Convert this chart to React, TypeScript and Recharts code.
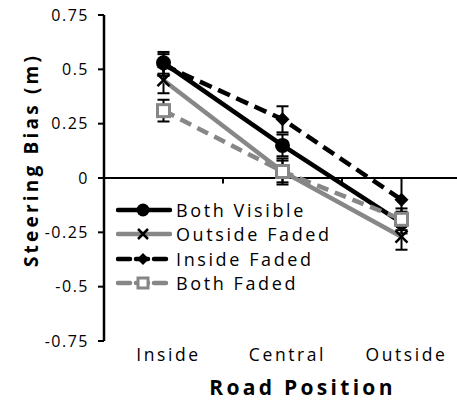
import React from 'react';
import { LineChart, Line, XAxis, YAxis, ErrorBar, ReferenceLine, Legend, Label } from 'recharts';

const categories = ['Inside', 'Central', 'Outside'];
const bothVisible = [0.53, 0.15, -0.205];
const bothVisibleErr = [0.05, 0.05, 0.05];
const outsideFaded = [0.45, 0.03, -0.27];
const outsideFadedErr = [0.06, 0.06, 0.06];
const insideFaded = [0.52, 0.27, -0.1];
const insideFadedErr = [0.05, 0.06, 0.1];
const bothFaded = [0.31, 0.03, -0.19];
const bothFadedErr = [0.05, 0.05, 0.05];
const yTicks = [-0.75, -0.5, -0.25, 0, 0.25, 0.5, 0.75];
const seriesNames = ['Both Visible', 'Outside Faded', 'Inside Faded', 'Both Faded'];

const data = categories.map((c, i) => ({
  pos: i + 0.5,
  name: c,
  bv: bothVisible[i],
  bvErr: bothVisibleErr[i],
  of: outsideFaded[i],
  ofErr: outsideFadedErr[i],
  inf: insideFaded[i],
  infErr: insideFadedErr[i],
  bf: bothFaded[i],
  bfErr: bothFadedErr[i],
}));

const FONT = '"Open Sans", "DejaVu Sans", sans-serif';
const GRAY = '#878787';

const CircleDot = (p: any) => <circle key={`c${p.index}`} cx={p.cx} cy={p.cy} r={7.5} fill="#000" />;
const XDot = (p: any) => (
  <g key={`x${p.index}`}>
    <line x1={p.cx - 6} y1={p.cy - 6} x2={p.cx + 6} y2={p.cy + 6} stroke="#000" strokeWidth={2.5} />
    <line x1={p.cx - 6} y1={p.cy + 6} x2={p.cx + 6} y2={p.cy - 6} stroke="#000" strokeWidth={2.5} />
  </g>
);
const DiamondDot = (p: any) => (
  <polygon
    key={`d${p.index}`}
    points={`${p.cx},${p.cy - 7} ${p.cx + 7},${p.cy} ${p.cx},${p.cy + 7} ${p.cx - 7},${p.cy}`}
    fill="#000"
  />
);
const SquareDot = (p: any) => (
  <rect key={`s${p.index}`} x={p.cx - 6} y={p.cy - 6} width={12} height={12} fill="#fff" stroke={GRAY} strokeWidth={3} />
);

const legendItems = [
  { name: seriesNames[0], color: '#000', dash: undefined as string | undefined, marker: 'circle' },
  { name: seriesNames[1], color: GRAY, dash: undefined, marker: 'x' },
  { name: seriesNames[2], color: '#000', dash: '12 6', marker: 'diamond' },
  { name: seriesNames[3], color: GRAY, dash: '12 6', marker: 'square' },
];

const LegendMarker = ({ m }: { m: string }) => {
  const cx = 27, cy = 11;
  if (m === 'circle') return <circle cx={cx} cy={cy} r={6.5} fill="#000" />;
  if (m === 'x')
    return (
      <g>
        <line x1={cx - 5} y1={cy - 5} x2={cx + 5} y2={cy + 5} stroke="#000" strokeWidth={2.5} />
        <line x1={cx - 5} y1={cy + 5} x2={cx + 5} y2={cy - 5} stroke="#000" strokeWidth={2.5} />
      </g>
    );
  if (m === 'diamond')
    return <polygon points={`${cx},${cy - 6} ${cx + 6},${cy} ${cx},${cy + 6} ${cx - 6},${cy}`} fill="#000" />;
  return <rect x={cx - 5} y={cy - 5} width={10} height={10} fill="#fff" stroke={GRAY} strokeWidth={3} />;
};

const LegendContent = () => (
  <div style={{ fontFamily: FONT, fontSize: 18, letterSpacing: 2.6, color: '#000' }}>
    {legendItems.map((it) => (
      <div key={it.name} style={{ display: 'flex', alignItems: 'center', height: 24.3 }}>
        <svg width={56} height={22}>
          <line x1={2} y1={11} x2={54} y2={11} stroke={it.color} strokeWidth={4.5} strokeDasharray={it.dash} strokeLinecap="round" />
          <LegendMarker m={it.marker} />
        </svg>
        <span style={{ marginLeft: 4, lineHeight: '22px' }}>{it.name}</span>
      </div>
    ))}
  </div>
);

const XTick = (p: any) => (
  <text x={p.x + 5} y={p.y} dy="0.71em" textAnchor="middle" fontFamily={FONT} fontSize={17.5} letterSpacing={2.6} fill="#000">
    {categories[Math.floor(p.payload.value)]}
  </text>
);

export default function App() {
  return (
    <div style={{ position: 'absolute', left: 0, top: 0, width: 457, height: 407, overflow: 'hidden', background: '#fff' }}>
      <LineChart width={461} height={407} data={data} margin={{ top: 15, right: 0, bottom: 0, left: 0 }}>
        <XAxis
          dataKey="pos"
          type="number"
          domain={[0, 3]}
          ticks={[0.5, 1.5, 2.5]}
          axisLine={false}
          tickLine={false}
          height={66}
          tick={<XTick />}
          tickMargin={2}
        >
          <Label
            value="Road Position"
            position="center"
            dx={20}
            dy={14}
            style={{ fontFamily: FONT, fontSize: 21, fontWeight: 700, letterSpacing: 3.3, fill: '#000' }}
          />
        </XAxis>
        <YAxis
          domain={[-0.75, 0.75]}
          ticks={yTicks}
          width={104}
          axisLine={{ stroke: '#000', strokeWidth: 2.5 }}
          tickLine={{ stroke: '#000', strokeWidth: 2 }}
          tickSize={6}
          tickMargin={9}
          tick={{ fontFamily: FONT, fontSize: 16, fill: '#000', letterSpacing: 1.5 }}
          interval={0}
        >
          <Label
            value="Steering Bias (m)"
            position="center"
            angle={-90}
            dx={-21}
            dy={-18}
            style={{ fontFamily: FONT, fontSize: 19, fontWeight: 700, letterSpacing: 3.2, fill: '#000', textAnchor: 'middle' }}
          />
        </YAxis>
        <ReferenceLine y={0} stroke="#000" strokeWidth={2} />
        <ReferenceLine segment={[{ x: 1, y: 0 }, { x: 1, y: -0.025 }]} stroke="#000" strokeWidth={2} />
        <ReferenceLine segment={[{ x: 2, y: 0 }, { x: 2, y: -0.025 }]} stroke="#000" strokeWidth={2} />
        <Legend
          layout="vertical"
          align="center"
          verticalAlign="middle"
          content={<LegendContent />}
          wrapperStyle={{ left: 116, top: 198, width: 280 }}
        />
        <Line dataKey="inf" name={seriesNames[2]} stroke="#000" strokeWidth={4.5} strokeDasharray="13 7" dot={DiamondDot} isAnimationActive={false}>
          <ErrorBar dataKey="infErr" width={6} stroke="#000" strokeWidth={2} direction="y" />
        </Line>
        <Line dataKey="bv" name={seriesNames[0]} stroke="#000" strokeWidth={4.5} dot={CircleDot} isAnimationActive={false}>
          <ErrorBar dataKey="bvErr" width={6} stroke="#000" strokeWidth={2} direction="y" />
        </Line>
        <Line dataKey="of" name={seriesNames[1]} stroke={GRAY} strokeWidth={4.5} dot={XDot} isAnimationActive={false}>
          <ErrorBar dataKey="ofErr" width={6} stroke="#000" strokeWidth={2} direction="y" />
        </Line>
        <Line dataKey="bf" name={seriesNames[3]} stroke={GRAY} strokeWidth={4.5} strokeDasharray="12 7" dot={SquareDot} isAnimationActive={false}>
          <ErrorBar dataKey="bfErr" width={6} stroke="#000" strokeWidth={2} direction="y" />
        </Line>
      </LineChart>
    </div>
  );
}
